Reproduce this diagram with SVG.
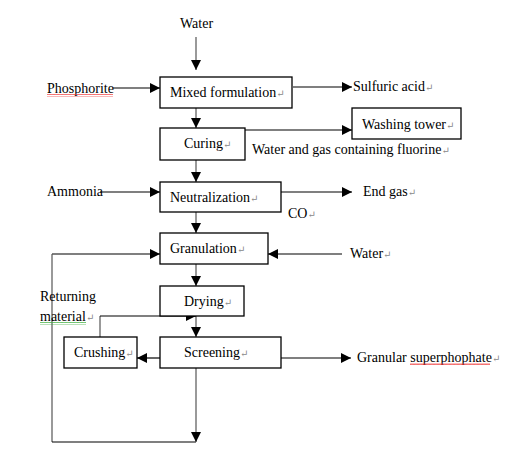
<svg xmlns="http://www.w3.org/2000/svg" width="514" height="449" viewBox="0 0 514 449">
<defs>
<marker id="ah" viewBox="0 0 10 10" refX="10" refY="5" markerWidth="10" markerHeight="10" markerUnits="userSpaceOnUse" orient="auto">
<path d="M0,0 L10,5 L0,10 z" fill="#000"/>
</marker>
<pattern id="wr" width="4" height="3" patternUnits="userSpaceOnUse"><path d="M0,2 L1,0.5 L2,2 L3,0.5 L4,2" fill="none" stroke="#e33" stroke-width="0.8"/></pattern>
<pattern id="wg" width="4" height="3" patternUnits="userSpaceOnUse"><path d="M0,2 L1,0.5 L2,2 L3,0.5 L4,2" fill="none" stroke="#3a3" stroke-width="0.8"/></pattern>
<style>
.box{fill:#fff;stroke:#000;stroke-width:1.3}
text{font-family:'Liberation Serif','Times New Roman','DejaVu Serif',serif;font-size:14px;fill:#000}
.pm{fill:#888;font-size:10px}
.c{fill:none;stroke:#000;stroke-width:1.2}
.g{fill:none;stroke:#555;stroke-width:1.2}
.a{marker-end:url(#ah)}
</style>
</defs>
<rect width="514" height="449" fill="#fff"/>
<g id="connectors">
<path class="g a" d="M196,37 V70"/>
<path class="c a" d="M113,88 H160"/>
<path class="c a" d="M293,87 H352"/>
<path class="g a" d="M196,108 V128"/>
<path class="c a" d="M245,130 H352"/>
<path class="g a" d="M196,160 V182"/>
<path class="c a" d="M100,192 H160"/>
<path class="c a" d="M256,192 H352"/>
<path class="g a" d="M196,212 V233"/>
<path class="c a" d="M342,254 H268"/>
<path class="g a" d="M196,264 V286"/>
<path class="c a" d="M52,254 H160"/>
<path class="g" d="M52,254 V442"/>
<path class="c" d="M52,442 H196"/>
<path class="g a" d="M196,368 V442"/>
<path class="g a" d="M196,316 V337"/>
<path class="g" d="M100,337 V316"/>
<path class="c a" d="M100,316 H196"/>
<path class="c a" d="M160,358 H137"/>
<path class="c a" d="M281,358 H351"/>
</g>
<g id="mixed"><rect class="box" x="160" y="77" width="132" height="31"/><text x="170" y="97">Mixed formulation<tspan class="pm">↵</tspan></text></g>
<g id="curing"><rect class="box" x="160" y="128" width="85" height="32"/><text x="184" y="148">Curing<tspan class="pm">↵</tspan></text></g>
<g id="washing"><rect class="box" x="352" y="108" width="109" height="31"/><text x="362" y="129">Washing tower<tspan class="pm">↵</tspan></text></g>
<g id="neutralization"><rect class="box" x="160" y="182" width="121" height="30"/><text x="170" y="202">Neutralization<tspan class="pm">↵</tspan></text></g>
<g id="granulation"><rect class="box" x="160" y="233" width="108" height="31"/><text x="170" y="253">Granulation<tspan class="pm">↵</tspan></text></g>
<g id="drying"><rect class="box" x="160" y="286" width="84" height="30"/><text x="184" y="306">Drying<tspan class="pm">↵</tspan></text></g>
<g id="screening"><rect class="box" x="160" y="337" width="121" height="31"/><text x="184" y="357">Screening<tspan class="pm">↵</tspan></text></g>
<g id="crushing"><rect class="box" x="64" y="337" width="73" height="31"/><text x="74" y="357">Crushing<tspan class="pm">↵</tspan></text></g>
<g id="labels">
<text x="180" y="28">Water</text>
<text x="47" y="93">Phosphorite</text>
<rect x="47" y="94" width="66" height="3" fill="url(#wr)"/>
<text x="353" y="91">Sulfuric acid<tspan class="pm">↵</tspan></text>
<text x="252" y="154">Water and gas containing fluorine<tspan class="pm">↵</tspan></text>
<text x="47" y="196">Ammonia</text>
<text x="363" y="196">End gas<tspan class="pm">↵</tspan></text>
<text x="288" y="218">CO<tspan class="pm">↵</tspan></text>
<text x="350" y="258">Water<tspan class="pm">↵</tspan></text>
<text x="40" y="301">Returning</text>
<text x="40" y="321">material<tspan class="pm">↵</tspan></text>
<rect x="40" y="322" width="46" height="3" fill="url(#wg)"/>
<text x="357" y="362">Granular superphophate<tspan class="pm">↵</tspan></text>
<rect x="410" y="363" width="80" height="3" fill="url(#wr)"/>
</g>
</svg>
